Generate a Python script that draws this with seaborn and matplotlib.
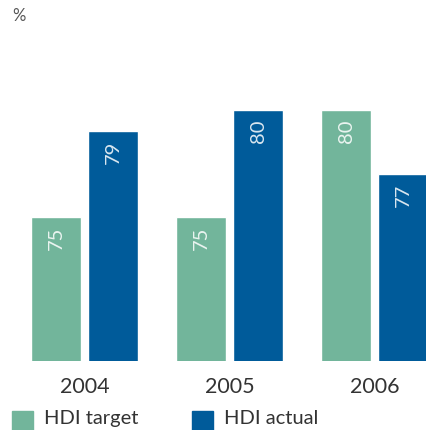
import matplotlib
matplotlib.use("Agg")
import matplotlib.pyplot as plt
import seaborn as sns
import pandas as pd
from matplotlib.patches import Rectangle

years = ["2004", "2005", "2006"]
series_names = ["HDI target", "HDI actual"]
hdi_target = [75, 75, 80]
hdi_actual = [79, 80, 77]

colors = ["#72b59b", "#005b9a"]

sns.set_theme(style="white")
plt.rcParams["font.family"] = ["Lato", "DejaVu Sans"]

df = pd.DataFrame({
    "year": years * 2,
    "series": [series_names[0]] * 3 + [series_names[1]] * 3,
    "value": hdi_target + hdi_actual,
})

fig = plt.figure(figsize=(4.26, 4.31), dpi=100)
ax = fig.add_axes([0.0, (431 - 362) / 431, 1.0, 262 / 431])

sns.barplot(data=df, x="year", y="value", hue="series", palette=colors,
            width=0.786, gap=0.123, dodge=True, ax=ax, legend=False,
            saturation=1, errorbar=None)

ax.set_xlim(-0.583, 2.355)
ax.set_ylim(68.3, 80.5)
for s in ax.spines.values():
    s.set_visible(False)
ax.set_yticks([])
ax.set_xlabel("")
ax.set_ylabel("")
ax.tick_params(axis="x", length=0, pad=11, labelsize=15.5, labelcolor="#333333")

for cont in ax.containers:
    for bar in cont:
        h = bar.get_height()
        ax.text(bar.get_x() + bar.get_width() / 2, h - 0.4, f"{h:.0f}",
                rotation=90, ha="center", va="top", fontsize=14.5,
                color="white", alpha=0.85)

fig.text(12 / 426, 1 - 16 / 431, "%", fontsize=12, color="#555555",
         ha="left", va="center")

# legend
for i, (name, c) in enumerate(zip(series_names, colors)):
    x0 = [12, 192][i]
    fig.patches.append(Rectangle((x0 / 426, (431 - 433) / 431), 21 / 426, 21 / 431,
                                 transform=fig.transFigure, color=c))
    fig.text((x0 + 32) / 426, (431 - 419) / 431, name, fontsize=14.5,
             color="#333333", ha="left", va="center")

fig.savefig("out.png", dpi=100)
